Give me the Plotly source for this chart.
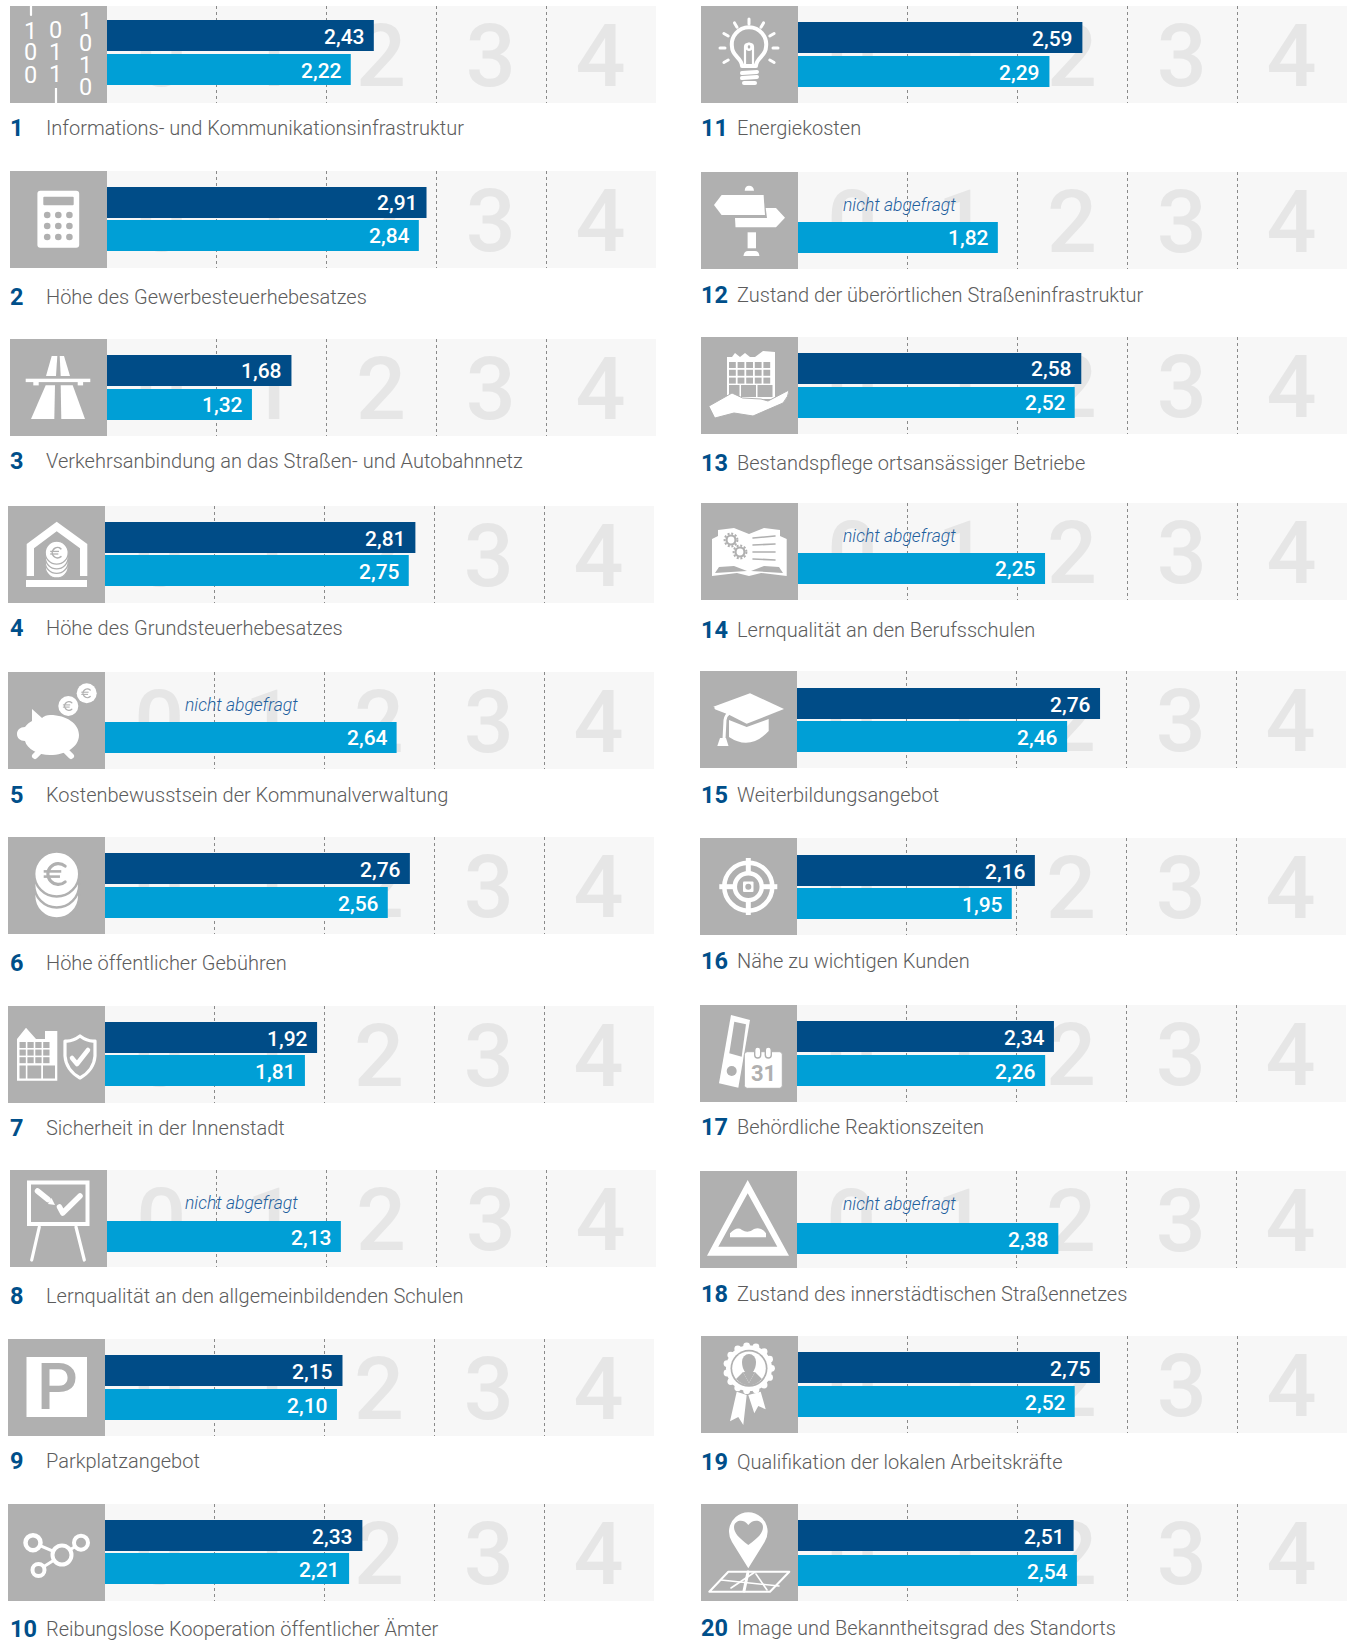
import base64, math
import plotly.graph_objects as go

# ---------- data ----------
LABELS = [
    "Informations- und Kommunikationsinfrastruktur", "Höhe des Gewerbesteuerhebesatzes",
    "Verkehrsanbindung an das Straßen- und Autobahnnetz", "Höhe des Grundsteuerhebesatzes",
    "Kostenbewusstsein der Kommunalverwaltung", "Höhe öffentlicher Gebühren",
    "Sicherheit in der Innenstadt", "Lernqualität an den allgemeinbildenden Schulen",
    "Parkplatzangebot", "Reibungslose Kooperation öffentlicher Ämter",
    "Energiekosten", "Zustand der überörtlichen Straßeninfrastruktur",
    "Bestandspflege ortsansässiger Betriebe", "Lernqualität an den Berufsschulen",
    "Weiterbildungsangebot", "Nähe zu wichtigen Kunden",
    "Behördliche Reaktionszeiten", "Zustand des innerstädtischen Straßennetzes",
    "Qualifikation der lokalen Arbeitskräfte", "Image und Bekanntheitsgrad des Standorts",
]
SERIES_DARK = [2.43, 2.91, 1.68, 2.81, None, 2.76, 1.92, None, 2.15, 2.33,
               2.59, None, 2.58, None, 2.76, 2.16, 2.34, None, 2.75, 2.51]
SERIES_LIGHT = [2.22, 2.84, 1.32, 2.75, 2.64, 2.56, 1.81, 2.13, 2.10, 2.21,
                2.29, 1.82, 2.52, 2.25, 2.46, 1.95, 2.26, 2.38, 2.52, 2.54]
SCALE_NUMERALS = [0, 1, 2, 3, 4]
SCALE_TICKS = [1, 2, 3, 4]
MISSING_TEXT = "nicht abgefragt"
CATEGORIES = ["Reihe A", "Reihe B"]

# ---------- layout (pixels) ----------
W, H = 1349, 1640
PANEL_LEFT = [10, 10, 10, 8, 8, 8, 8, 10, 8, 8, 701, 701, 701, 701, 700, 700, 700, 700, 701, 701]
PANEL_TOP = [6, 171, 339, 506, 672, 837, 1006, 1170, 1339, 1504,
             6, 172, 337, 503, 671, 838, 1005, 1171, 1336, 1504]
DARK_TOP = [20, 187, 355, 522, None, 853, 1022, None, 1355, 1520,
            22, None, 353, None, 688, 855, 1021, None, 1352, 1520]
LIGHT_TOP = [54, 220, 389, 555, 722, 887, 1055, 1221, 1389, 1553,
             56, 222, 387, 553, 721, 888, 1055, 1223, 1386, 1555]
LABEL_Y = [128, 297, 461, 628, 795, 963, 1128, 1296, 1461, 1629,
           128, 295, 463, 630, 795, 961, 1127, 1294, 1462, 1628]
BAR_STRETCH = [0, 0, 0, .006, .006, .006, .006, 0, .006, .006,
               0, 0, 0, 0, 0, .003, 0, 0, 0, 0]
ICON = 97
UNIT = 109.8
BAR_H = 31
DARK, LIGHT, GREY, BG, NUMCOL = "#004c87", "#009fd6", "#b0b0b0", "#f7f7f7", "#e6e6e6"
LABEL_FONT = "Roboto"

# ---------- icon helpers ----------
def poly(pts, fill="#fff"):
    return f'<polygon points="{" ".join(f"{x},{y}" for x, y in pts)}" fill="{fill}"/>'
def rect(x, y, w, h, fill="#fff", rx=0):
    return f'<rect x="{x}" y="{y}" width="{w}" height="{h}" rx="{rx}" fill="{fill}"/>'
def circ(x, y, r, fill="#fff", stroke="none", sw=0, dash=None):
    d = f' stroke-dasharray="{dash}"' if dash else ""
    return f'<circle cx="{x}" cy="{y}" r="{r}" fill="{fill}" stroke="{stroke}" stroke-width="{sw}"{d}/>'
def line(x1, y1, x2, y2, sw=3, col="#fff", cap="round"):
    return f'<line x1="{x1}" y1="{y1}" x2="{x2}" y2="{y2}" stroke="{col}" stroke-width="{sw}" stroke-linecap="{cap}"/>'
def path(d, fill="#fff", stroke="none", sw=0):
    return f'<path d="{d}" fill="{fill}" stroke="{stroke}" stroke-width="{sw}" stroke-linejoin="round" stroke-linecap="round"/>'
def euro(cx, cy, s):
    return (path(f"M{cx+.65*s},{cy-.6*s} A{.8*s},{.8*s} 0 1 0 {cx+.65*s},{cy+.6*s}", "none", GREY, .24*s)
            + line(cx-s, cy-.2*s, cx+.35*s, cy-.2*s, .2*s, GREY, "butt")
            + line(cx-s, cy+.2*s, cx+.25*s, cy+.2*s, .2*s, GREY, "butt"))
def coins(cx, cy, r, n, dy, s, gap=1.5):
    out = ""
    for i in range(n, 0, -1):
        out += circ(cx, cy + i * dy, r, "#fff", GREY, gap)
    return out + circ(cx, cy, r, "#fff", GREY, gap) + euro(cx, cy, s)
def windows(x, y, cols, rows, w, h, g):
    return "".join(rect(x + c * (w + g), y + r * (h + g), w, h, GREY) for c in range(cols) for r in range(rows))

bulb_rays = ""
for a in [180, 210, 240, 270, 300, 330, 0, 30, 150]:
    t = math.radians(a)
    bulb_rays += line(48 + 24 * math.cos(t), 42 + 24 * math.sin(t), 48 + 29 * math.cos(t), 42 + 29 * math.sin(t), 3)
rosette = "".join(circ(48 + 22.5 * math.cos(math.radians(a)), 32.3 + 22.5 * math.sin(math.radians(a)), 3.4)
                  for a in range(0, 360, 24))

ICONS = [
    line(21, 0, 21, 9, 2.2) + line(46, 82, 46, 97, 2.2, cap="butt"),
    rect(27.4, 19.7, 41.8, 57, rx=3) + rect(33.3, 25.7, 30.4, 8.6, GREY, 1)
      + "".join(circ(x, y, 3.3, GREY) for x in (37.2, 48.3, 59.4) for y in (44, 55, 66)),
    poly([(41.7, 17), (47.3, 17), (46, 37), (36, 37)]) + poly([(49.7, 17), (54, 17), (60, 37), (50.7, 37)])
      + rect(15.7, 39.7, 64.6, 3.4) + rect(23.3, 43, 5.4, 3.4) + rect(67.7, 43, 5.4, 3.4)
      + poly([(35.7, 46.3), (45, 46.3), (44.3, 80), (21, 80)]) + poly([(50.7, 46.3), (62.7, 46.3), (75, 80), (51.3, 80)]),
    poly([(48.7, 15.7), (79.3, 38), (79.3, 70), (72, 70), (72, 42.3), (48.7, 25.3), (26, 42.3), (26, 70), (18.7, 70), (18.7, 38)])
      + rect(18, 74, 61, 7) + coins(48.7, 46.7, 11.5, 3, 4.6, 6.5, 1.3),
    path("M42,43 C59,43 71,52 71,63 C71,75 58,83 42,83 C30,83 19,77 17,69 C12,69 9,66 9,62 C9,58 12,55 17,55 C19,52 22,50 24,49 L24,37 L34,46 C36,44 39,43 42,43 Z")
      + line(27, 84, 31, 80, 6) + line(63, 84, 58, 79, 6) + circ(78.7, 21.3, 10) + euro(78.7, 21.3, 5.4) + circ(60.3, 34, 10) + euro(60.3, 34, 5.4),
    coins(48.7, 37, 22.5, 2, 11, 13, 2.4),
    poly([(9, 33), (18, 21.7), (28, 33), (37, 33), (37, 25), (49.3, 25), (49.3, 74.7), (9, 74.7)])
      + windows(11.5, 36, 4, 3, 6.3, 6, 1.6) + rect(11.5, 59.5, 6.3, 13, GREY) + rect(19.4, 59.5, 13.8, 13, GREY) + rect(35, 59.5, 12, 13, GREY)
      + path("M72,30 Q80,36 87,35 L87,50 Q86,64 72,72 Q58,64 57,50 L57,35 Q64,36 72,30 Z", "none", "#fff", 3.2)
      + path("M64,52 L69,58 L80,44", "none", "#fff", 4.5),
    rect(19, 12.5, 58.5, 41.5, "none").replace('fill="none"', 'fill="none" stroke="#fff" stroke-width="4"')
      + line(29.3, 57, 21.7, 90, 3.2) + line(66, 57, 74.3, 90, 3.2)
      + line(27.5, 21, 38, 29.5, 5.5) + poly([(38, 34), (45, 35), (41.5, 28)])
      + path("M49.5,37 L52.7,43 L70,26", "none", "#fff", 5.5),
    rect(18.5, 18, 60.5, 60),
    line(25, 38.7, 54, 51, 3) + line(73, 38.7, 54, 51, 3) + line(30.5, 66, 54, 51, 3)
      + circ(54, 51, 9.5, GREY, "#fff", 4) + circ(25, 38.7, 7.5, GREY, "#fff", 4.5)
      + circ(73, 38.7, 7, GREY, "#fff", 4) + circ(30.5, 66, 6, GREY, "#fff", 4),
    bulb_rays + path("M41,60 C41,52 31,50 31,41 A17.2,17.2 0 1 1 65,41 C65,50 55,52 55,60 Z", "none", "#fff", 4)
      + path("M44,60 L44,41 A3.2,3.2 0 1 1 48,44 A3.2,3.2 0 1 1 52,41 L52,60", "none", "#fff", 2.2)
      + line(41, 67, 56, 66, 4) + line(41, 72, 56, 71, 4) + line(43, 77, 54, 77, 4),
    path("M43.7,18.7 Q44,13.7 48,13.7 Q52.5,13.7 53,18.7 Z") + poly([(13, 33), (20.6, 23), (62.6, 23), (64, 43), (20.6, 43)])
      + poly([(64.7, 36), (75, 36), (84, 45.7), (75, 55.3), (34.5, 55.3), (34, 46), (66, 46)])
      + rect(46.6, 60.3, 8.4, 16) + path("M42.5,84 Q43,79 47,79 L54,79 Q58,79 58.4,84 Z"),
    poly([(26, 20), (31, 20), (34, 16), (39, 20), (44, 16), (49, 20), (54, 20), (62, 14), (74, 15), (74, 62), (26, 62)])
      + windows(28, 25, 5, 3, 6.8, 6, 1.8) + rect(28, 48, 10.5, 12, GREY) + rect(40, 48, 15, 12, GREY) + rect(56.5, 48, 15, 12, GREY)
      + path("M8,69 L31,56 L41.7,61 L60,62 L67,64 L88,53 Q88,59 82,66 L52,79 L33,76 L14,81 Z", "#fff", GREY, 1),
    poly([(11, 36), (17, 33), (17, 27), (33, 25), (48, 31), (63, 25), (79, 27), (79, 33), (85.7, 36), (85.7, 73), (60, 70), (48, 73), (36, 70), (11, 73)])
      + circ(30, 37, 4.5, "none", GREY, 2.2) + circ(30, 37, 6.4, "none", GREY, 2, "2 1.7")
      + circ(39, 49, 4.5, "none", GREY, 2.2) + circ(39, 49, 6.4, "none", GREY, 2, "2 1.7")
      + "".join(line(52, y, 74, y - 2 + i, 1.6, GREY) for i, y in enumerate([35, 42, 49, 56]))
      + path("M14,70 L18,64 L33,63 L46,68 Z", GREY) + path("M82,70 L78,64 L63,63 L50,68 Z", GREY),
    poly([(13.3, 35.7), (50, 22.3), (84, 38), (46.7, 52.7)]) + path("M29,49 L46.7,56 L68.7,48 L68.7,60 Q50,80 29,66 Z")
      + path("M16,37 L29,42 Q26,44 25,49 L24,68", "none", "#fff", 3) + path("M17.3,75 L20,67 L26,67 L28.5,75 Z"),
    circ(48.3, 48.7, 24, "none", "#fff", 4.5) + circ(48.3, 48.7, 13.5, "none", "#fff", 4.5)
      + line(19.3, 48.7, 36, 48.7, 5, cap="butt") + line(61, 48.7, 77.3, 48.7, 5, cap="butt")
      + line(48.3, 20, 48.3, 37, 5, cap="butt") + line(48.3, 60, 48.3, 77, 5, cap="butt") + rect(43, 43.5, 10.5, 10.5, "#fff", 1) + circ(48.3, 48.7, 3, GREY),
    poly([(31, 10), (50, 15), (38.3, 82.7), (19, 78.3)]) + poly([(34.3, 16.7), (46, 19.3), (41.7, 51.7), (29.3, 48.3)], GREY) + circ(31.7, 66, 5, GREY)
      + rect(44.3, 46.7, 38, 36.6, "#fff", 3).replace('/>', f' stroke="{GREY}" stroke-width="1"/>')
      + rect(54.7, 42, 6, 11, "#fff", 3).replace('/>', f' stroke="{GREY}" stroke-width="1.4"/>')
      + rect(65.3, 42, 6, 11, "#fff", 3).replace('/>', f' stroke="{GREY}" stroke-width="1.4"/>'),
    path("M47.7,9 L89,84.7 L7,84.7 Z M47.7,22.3 L18.3,75.7 L77.3,75.7 Z").replace('d="', 'fill-rule="evenodd" d="')
      + path("M30,66.3 L30,62.3 Q37,55 42,59 Q48,63 54,58 Q61,55 66,62.3 L66,66.3 Z"),
    rosette + circ(48, 32.3, 23) + circ(48, 32.3, 18.5, GREY) + circ(48, 32.3, 16.8)
      + path("M35,43 L42,36 L48,47 L54,36 L61,43 Q48,56 35,43 Z", GREY) + path("M42,36 L48,47 L54,36", GREY) + path("M41,26 A7,8 0 1 1 55,26 Q55,33 51,37 L45,37 Q41,33 41,26 Z", GREY)
      + poly([(35.7, 55.7), (45.7, 59), (42.3, 89), (37.3, 81), (29, 85.3)]) + poly([(47.3, 59), (59.7, 55.7), (64.7, 73.3), (57.3, 70), (53.3, 77.3)]),
    path("M47.3,64.3 L31,38 A19.3,19.3 0 1 1 63.6,38 Z")
      + path("M47.3,41 C38,34 33,29 33,23 C33,16 43,14 47.3,21 C52,14 62,16 62,23 C62,29 57,34 47.3,41 Z", GREY)
      + path("M27.3,67.7 L88.3,67.7 L69,87.7 L8.3,87.7 Z", "none", "#fff", 2)
      + line(47, 68, 43, 87, 3) + line(30, 84, 54, 68, 1.6) + line(20, 76, 78, 82, 1.6) + line(55, 70, 66, 86, 1.6),
]

def icon_uri(body):
    svg = (f'<svg xmlns="http://www.w3.org/2000/svg" width="{ICON*4}" height="{ICON*4}" viewBox="0 0 {ICON} {ICON}">'
           f'<rect width="{ICON}" height="{ICON}" fill="{GREY}"/>{body}</svg>')
    return "data:image/svg+xml;base64," + base64.b64encode(svg.encode()).decode()

# ---------- figure ----------
fig = go.Figure()
layout = {}
annotations, images = [], []
def px(x): return x / W
def py(y): return 1 - y / H
def note(x, y, text, size, color, family=LABEL_FONT, weight=400, anchor="left", style="normal"):
    annotations.append(dict(x=px(x), y=py(y), xref="paper", yref="paper", text=text, showarrow=False,
                            xanchor=anchor, yanchor="middle", borderpad=0,
                            font=dict(family=family, size=size, color=color, weight=weight, style=style)))

n = len(LABELS)
for i in range(n):
    left, top = PANEL_LEFT[i], PANEL_TOP[i]
    x0 = left + ICON
    dom_x = [px(x0), px(x0 + 5 * UNIT)]
    dom_y = [py(top + ICON), py(top)]
    a, b = i * 2 + 1, i * 2 + 2
    sa, sb = ("" if a == 1 else str(a)), str(b)
    dark_c = (DARK_TOP[i] + BAR_H / 2) if DARK_TOP[i] is not None else (LIGHT_TOP[i] + BAR_H / 2 - 33)
    light_c = LIGHT_TOP[i] + BAR_H / 2
    gap = light_c - dark_c
    y_top = -(dark_c - top) / gap
    y_bot = y_top + ICON / gap

    # lower layer: scale numerals + dotted gridlines
    layout[f"xaxis{sa}"] = dict(domain=dom_x, range=[0, 5], anchor=f"y{sa}", tickvals=SCALE_TICKS, showgrid=True,
                                gridcolor="#8a8a8a", griddash="dot", gridwidth=1, zeroline=False,
                                showticklabels=False, ticks="", showline=False, fixedrange=True)
    layout[f"yaxis{sa}"] = dict(domain=dom_y, range=[0, 1], anchor=f"x{sa}", visible=False, fixedrange=True)
    fig.add_trace(go.Scatter(x=[v + .495 for v in SCALE_NUMERALS], y=[.4] * 5, text=[str(v) for v in SCALE_NUMERALS],
                             mode="text", textposition="middle center", hoverinfo="skip", showlegend=False, cliponaxis=False,
                             textfont=dict(family="Roboto", size=88, color=NUMCOL, weight=500),
                             xaxis=f"x{sa}", yaxis=f"y{sa}"))
    # upper layer: bars
    layout[f"xaxis{sb}"] = dict(domain=dom_x, range=[0, 5 / (1 + BAR_STRETCH[i])], anchor=f"y{sb}", overlaying=f"x{sa}", visible=False, fixedrange=True)
    layout[f"yaxis{sb}"] = dict(domain=dom_y, range=[y_bot, y_top], anchor=f"x{sb}", overlaying=f"y{sa}", visible=False,
                                type="category", categoryorder="array", categoryarray=CATEGORIES, fixedrange=True)
    for val, cat, col in ((SERIES_DARK[i], CATEGORIES[0], DARK), (SERIES_LIGHT[i], CATEGORIES[1], LIGHT)):
        fig.add_trace(go.Bar(x=[val], y=[cat], orientation="h", width=BAR_H / gap, marker=dict(color=col, line=dict(width=0)),
                             showlegend=False, name=cat, hovertemplate="%{x:.2f}<extra></extra>",
                             xaxis=f"x{sb}", yaxis=f"y{sb}"))
        if val is not None:
            annotations.append(dict(x=val, y=cat, xref=f"x{sb}", yref=f"y{sb}", text=f"{val:.2f}".replace(".", ","),
                                    showarrow=False, xanchor="right", yanchor="middle", xshift=-8, yshift=-1, borderpad=0,
                                    font=dict(family="Roboto", size=21, color="#ffffff", weight=500)))
    if SERIES_DARK[i] is None:
        note(184 if i < 10 else 842, top + 32.5, MISSING_TEXT, 17.5, "#1f5f9e", weight=300, style="italic")

    # caption
    col0 = 9 if i < 10 else 700
    note(col0, LABEL_Y[i], str(i + 1), 23.5, "#004f8a", weight=700)
    note(45 if i < 10 else 736, LABEL_Y[i], LABELS[i], 20, "#5c5c5c", weight=300)

    images.append(dict(source=icon_uri(ICONS[i]), xref="paper", yref="paper", x=px(left), y=py(top),
                       sizex=ICON / W, sizey=ICON / H, xanchor="left", yanchor="top", sizing="stretch", layer="above"))

# text parts of the icons
ICON_DIGITS = [("1", 30, 31), ("0", 30, 52), ("0", 30, 75), ("0", 55, 30), ("1", 55, 52), ("1", 55, 74),
               ("1", 85.5, 21), ("0", 85.5, 43), ("1", 85.5, 65), ("0", 85.5, 87)]
for t, x, y in ICON_DIGITS:
    note(x, y, t, 23.5, "#ffffff", family="Roboto", anchor="center")
note(57.7, 1387, "P", 64, GREY, family="Roboto", weight=500, anchor="center")
note(763.5, 1073, "31", 22, GREY, family="Roboto", weight=700, anchor="center")

fig.update_layout(width=W, height=H, margin=dict(l=0, r=0, t=0, b=0, pad=0), autosize=False,
                  paper_bgcolor="#ffffff", plot_bgcolor=BG, barmode="overlay", showlegend=False,
                  annotations=annotations, images=images, hovermode="closest", **layout)
fig.write_html("out.html", config=dict(displayModeBar=False),
               post_script="document.body.style.margin='0';document.body.style.overflow='hidden';")
